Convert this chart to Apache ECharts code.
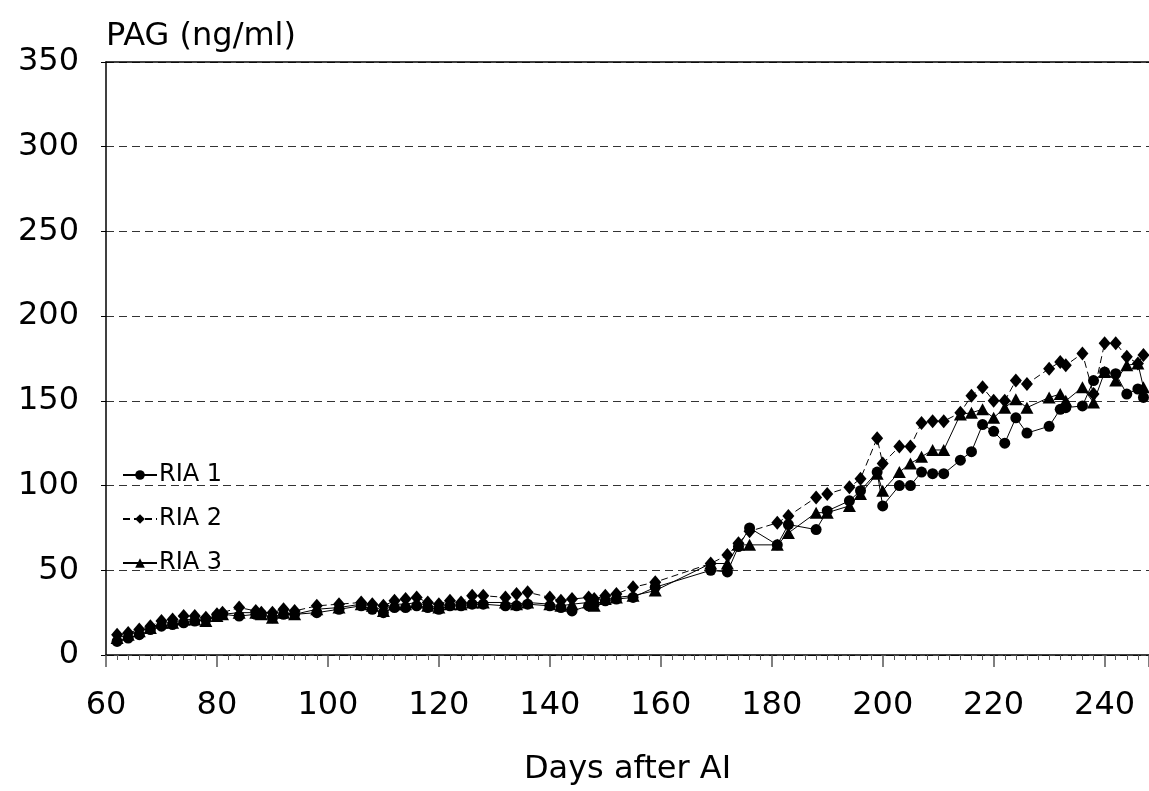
<!DOCTYPE html>
<html>
<head>
<meta charset="utf-8">
<script src="https://cdn.jsdelivr.net/npm/echarts@6/dist/echarts.min.js"></script>
<style>
html,body{margin:0;padding:0;background:#fff;}
#chart{width:1149px;height:791px;}
</style>
</head>
<body>
<div id="chart"></div>
<script>
const days = [62,64,66,68,70,72,74,76,78,80,81,84,87,88,90,92,94,98,102,106,108,110,112,114,116,118,120,122,124,126,128,132,134,136,140,142,144,147,148,150,152,155,159,169,172,174,176,181,183,188,190,194,196,199,200,203,205,207,209,211,214,216,218,220,222,224,226,230,232,233,236,238,240,242,244,246,247];
const ria1 = [8,10,12,15,17,18,19,20,21,23,24,23,24,24,22,24,24,25,27,29,27,25,28,28,29,28,27,29,29,30,30,29,29,30,29,28,26,29,30,32,33,34,40,50,49,64,75,65,77,74,85,91,97,108,88,100,100,108,107,107,115,120,136,132,125,140,131,135,145,146,147,162,167,166,154,157,152];
const ria2 = [12,13,15,17,20,21,23,23,22,24,25,28,26,25,25,27,26,29,30,31,30,29,32,33,34,31,30,32,31,35,35,34,36,37,34,32,33,34,33,35,36,40,43,54,59,66,73,78,82,93,95,99,104,128,113,123,123,137,138,138,143,153,158,150,150,162,160,169,173,171,178,154,184,184,176,172,177];
const ria3 = [10,12,14,16,19,19,21,21,20,23,24,25,25,24,22,25,24,27,28,30,29,26,30,30,31,29,28,30,30,31,31,31,30,31,30,29,30,31,29,33,34,35,38,54,54,65,65,65,72,84,84,88,95,107,97,108,113,117,121,121,142,143,145,140,146,151,146,152,154,150,158,149,167,162,171,172,158];
const seriesNames = ['RIA 1','RIA 2','RIA 3'];
const xTitle = 'Days after AI';
const yTitle = 'PAG (ng/ml)';

const pair = arr => days.map((d,i)=>[d, arr[i]]);
const FONT = '"DejaVu Sans", "Liberation Sans", Arial, sans-serif';

const chart = echarts.init(document.getElementById('chart'), null, {renderer:'canvas'});
chart.setOption({
  animation: false,
  backgroundColor: '#fff',
  grid: {left:106, top:62, right:0, bottom:136, containLabel:false},
  legend: {
    orient:'vertical', left:117, top:458, itemGap:20, itemWidth:34, itemHeight:12,
    textStyle:{fontFamily:FONT, fontSize:24, lineHeight:24, color:'#000', padding:[0,0,0,-3]},
    data: seriesNames
  },
  xAxis: [{
    type:'value', min:60, max:248, interval:20,
    name:xTitle, nameLocation:'middle', nameGap:99,
    nameTextStyle:{fontFamily:FONT, fontSize:32, color:'#000'},
    axisLine:{show:true, onZero:false, lineStyle:{color:'#000', width:1.5}},
    axisTick:{show:true, length:12, inside:false, lineStyle:{color:'#555', width:1.5}},
    minorTick:{show:true, splitNumber:10, length:5, lineStyle:{color:'#555', width:1}},
    axisLabel:{fontFamily:FONT, fontSize:32, color:'#000', margin:35, showMaxLabel:false},
    splitLine:{show:false}
  },{
    type:'value', min:60, max:248, position:'top',
    axisLine:{show:true, onZero:false, lineStyle:{color:'#000', width:1.5}},
    axisTick:{show:false}, axisLabel:{show:false}, splitLine:{show:false}
  }],
  yAxis: {
    type:'value', min:0, max:350, interval:50,
    name:yTitle, nameLocation:'end', nameGap:9,
    nameTextStyle:{fontFamily:FONT, fontSize:32, color:'#000', align:'left', verticalAlign:'bottom'},
    axisLine:{show:true, onZero:false, lineStyle:{color:'#000', width:1.5}},
    axisTick:{show:true, length:5, lineStyle:{color:'#000', width:1}},
    axisLabel:{fontFamily:FONT, fontSize:32, color:'#000', margin:27},
    splitLine:{show:true, lineStyle:{color:'#333', width:1, type:[8,5]}}
  },
  series: [
    {name:seriesNames[0], type:'line', data:pair(ria1), symbol:'circle', symbolSize:11,
     itemStyle:{color:'#000'}, lineStyle:{color:'#000', width:1}, z:4},
    {name:seriesNames[1], type:'line', data:pair(ria2), symbol:'diamond', symbolSize:[12,14],
     itemStyle:{color:'#000'}, lineStyle:{color:'#000', width:1, type:[7,4]}, z:3},
    {name:seriesNames[2], type:'line', data:pair(ria3), symbol:'triangle', symbolSize:[13,12],
     itemStyle:{color:'#000'}, lineStyle:{color:'#000', width:1}, z:2}
  ]
});
</script>
</body>
</html>
